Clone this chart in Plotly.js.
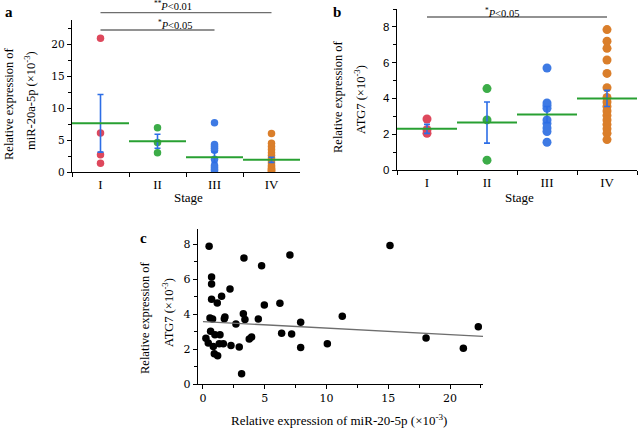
<!DOCTYPE html>
<html>
<head>
<meta charset="utf-8">
<script src="https://cdn.plot.ly/plotly-3.0.1.min.js"></script>
<style>
  html, body { margin: 0; padding: 0; background: white; }
  #chart { width: 638px; height: 430px; }
</style>
</head>
<body>
<div id="chart"></div>
<script>
const stages = ['I', 'II', 'III', 'IV'];

// panel a: miR-20a-5p by stage
const mirI = [20.9, 6.1, 2.7, 1.35];
const mirII = [6.9, 4.6, 3.0];
const mirIII = [7.7, 4.3, 4.0, 3.7, 3.4, 2.0, 1.0, 0.7, 0.4, 0.2];
const mirIV = [6.0, 4.5, 4.0, 3.5, 3.0, 2.6, 2.2, 1.8, 1.4, 1.0, 0.8, 0.6, 0.4, 0.3, 0.2, 0.1];
const mirMean = [7.6, 4.8, 2.3, 1.9];
const mirSem = [4.5, 1.1, 0.8, 0.4];

// panel b: ATG7 by stage
const atgI = [2.85, 2.25, 2.05];
const atgII = [4.55, 2.8, 0.55];
const atgIII = [5.7, 3.75, 3.6, 3.45, 2.8, 2.6, 2.35, 2.15, 1.55];
const atgIV = [7.85, 7.2, 6.8, 6.15, 5.4, 4.6, 4.05, 3.8, 3.55, 3.3, 3.05, 2.8, 2.55, 2.3, 2.05, 1.7];
const atgMean = [2.3, 2.65, 3.1, 4.0];
const atgSem = [0.25, 1.15, 0.45, 0.45];

// panel c: correlation
const corrMir = [0.5, 0.24, 0.43, 0.57, 0.7, 0.7, 0.7, 0.62, 0.78, 0.84, 0.92, 1.19, 1.16, 0.97, 1.38,
  1.32, 1.51, 1.65, 1.73, 1.78, 2.19, 2.27, 2.67, 2.94, 3.13, 3.27, 3.32, 3.4, 3.75, 3.94,
  4.48, 4.75, 4.97, 6.23, 6.37, 7.04, 7.18, 7.91, 7.91, 10.07, 11.28, 15.14, 18.06, 21.08, 22.29];
const corrAtg = [7.87, 2.62, 2.34, 3.77, 6.11, 5.71, 4.85, 3.01, 3.71, 2.15, 1.73, 1.62, 4.63, 2.82, 2.82,
  2.3, 5.01, 2.3, 3.73, 3.83, 5.43, 2.2, 3.43, 2.11, 0.59, 4.02, 7.2, 3.68, 2.57, 2.68,
  3.71, 6.76, 4.51, 4.61, 2.9, 7.37, 2.86, 3.53, 2.09, 2.3, 3.87, 7.92, 2.63, 2.04, 3.27];
const fitX = [0, 22.7];
const fitY = [3.57, 2.72];

const dotColors = ['rgb(222,72,92)', 'rgb(60,172,72)', 'rgb(62,122,228)', 'rgb(218,126,42)'];
const meanColor = 'rgb(40,160,50)';
const errColor = 'rgb(45,110,230)';

const W = 638, H = 430;
const px = x => x / W;
const py = y => 1 - y / H;

const serif = 'Liberation Serif, Times New Roman, serif';

function stageTraces(groups, means, sems, xa, ya, size) {
  const out = groups.map((vals, i) => ({
    x: vals.map(() => stages[i]),
    y: vals,
    type: 'scatter',
    mode: 'markers',
    marker: { color: dotColors[i], size: size },
    xaxis: xa, yaxis: ya,
    hoverinfo: 'y'
  }));
  out.push({
    x: stages,
    y: means,
    type: 'scatter',
    mode: 'markers',
    marker: { size: 1, opacity: 0 },
    error_y: { type: 'data', array: sems, visible: true, color: errColor, thickness: 1.6, width: 3 },
    xaxis: xa, yaxis: ya,
    hoverinfo: 'skip'
  });
  return out;
}

const traces = [
  ...stageTraces([mirI, mirII, mirIII, mirIV], mirMean, mirSem, 'x', 'y', 7.5),
  ...stageTraces([atgI, atgII, atgIII, atgIV], atgMean, atgSem, 'x2', 'y2', 9),
  {
    x: corrMir, y: corrAtg, type: 'scatter', mode: 'markers',
    marker: { color: 'black', size: 7.5 },
    xaxis: 'x3', yaxis: 'y3'
  },
  {
    x: fitX, y: fitY, type: 'scatter', mode: 'lines',
    line: { color: 'rgb(110,110,110)', width: 1.3 },
    xaxis: 'x3', yaxis: 'y3', hoverinfo: 'skip'
  }
];

const meanShapes = [];
mirMean.forEach((m, i) => meanShapes.push({
  type: 'line', xref: 'x', yref: 'y', x0: i - 0.5, x1: i + 0.5, y0: m, y1: m,
  line: { color: meanColor, width: 2 }, layer: 'above'
}));
atgMean.forEach((m, i) => meanShapes.push({
  type: 'line', xref: 'x2', yref: 'y2', x0: i - 0.5, x1: i + 0.5, y0: m, y1: m,
  line: { color: meanColor, width: 2 }, layer: 'above'
}));

const bracket = (xref, a, b, y) => ({
  type: 'line', xref: xref, yref: 'paper', x0: a, x1: b, y0: py(y), y1: py(y),
  line: { color: 'rgb(110,110,110)', width: 1.3 }
});

const catX = (domain) => ({
  domain: domain, type: 'category', range: [-0.5, 3.5],
  tickson: 'boundaries', ticks: 'outside', ticklen: 4, tickcolor: 'black',
  showline: true, linecolor: 'black', linewidth: 1.2,
  showgrid: false, zeroline: false,
  tickfont: { family: serif, size: 13, color: 'black' }
});

const numAxis = (domain, range, dtick, minor, font, size) => ({
  domain: domain, range: range, dtick: dtick, tick0: 0,
  ticks: 'outside', ticklen: 4, tickcolor: 'black',
  minor: { dtick: minor, ticks: 'outside', ticklen: 2.5, tickcolor: 'black' },
  showline: true, linecolor: 'black', linewidth: 1.2,
  showgrid: false, zeroline: false,
  tickfont: { family: font, size: size, color: 'black' }
});

const note = (text, x, y, size, angle, extra) => Object.assign({
  text: text, xref: 'paper', yref: 'paper', x: px(x), y: py(y),
  xanchor: 'center', yanchor: 'middle', showarrow: false, textangle: angle || 0,
  font: { family: serif, size: size, color: 'black' }
}, extra || {});

const layout = {
  width: W, height: H,
  margin: { l: 0, r: 0, t: 0, b: 0 },
  paper_bgcolor: 'white', plot_bgcolor: 'white',
  showlegend: false,
  xaxis: Object.assign(catX([px(72), px(300)]), { anchor: 'y' }),
  yaxis: Object.assign(numAxis([py(172), py(20)], [0, 23.75], 5, 2.5, 'DejaVu Serif', 10.5), { anchor: 'x' }),
  xaxis2: Object.assign(catX([px(397), px(637)]), { anchor: 'y2' }),
  yaxis2: Object.assign(numAxis([py(170), py(9)], [0, 9], 2, 1, 'Liberation Sans', 11.5), { anchor: 'x2' }),
  xaxis3: Object.assign(numAxis([px(198), px(483)], [-0.4, 22.67], 5, 2.5, 'DejaVu Serif', 11), { anchor: 'y3' }),
  yaxis3: Object.assign(numAxis([py(384), py(229)], [0, 8.86], 2, 1, 'DejaVu Serif', 11), { anchor: 'x3' }),
  shapes: [
    ...meanShapes,
    bracket('x', 0, 3, 12.7),
    bracket('x', 0, 2, 30),
    bracket('x2', 0, 3, 17)
  ],
  annotations: [
    note('<b>a</b>', 9, 12, 15),
    note('<b>b</b>', 337, 12, 15),
    note('<b>c</b>', 143, 238, 15),
    note('<sup>**</sup><i>P</i>&lt;0.01', 173, 6, 10.5),
    note('<sup>*</sup><i>P</i>&lt;0.05', 175, 24, 10.5),
    note('<sup>*</sup><i>P</i>&lt;0.05', 502, 12, 10.5),
    note('Relative expression of', 9, 104, 12.5, -90),
    note('miR-20a-5p (×10<sup>-3</sup>)', 30, 101, 12.5, -90),
    note('Relative expression of', 338, 97, 12.5, -90),
    note('ATG7 (×10<sup>-3</sup>)', 360, 99, 12.5, -90),
    note('Relative expression of', 145, 318, 12.5, -90),
    note('ATG7 (×10<sup>-3</sup>)', 168, 313, 12.5, -90),
    note('Stage', 188, 197, 13),
    note('Stage', 519, 197, 13),
    note('Relative expression of miR-20-5p (×10<sup>-3</sup>)', 339, 420, 13)
  ]
};

Plotly.newPlot('chart', traces, layout, { staticPlot: true, displayModeBar: false });
</script>
</body>
</html>
